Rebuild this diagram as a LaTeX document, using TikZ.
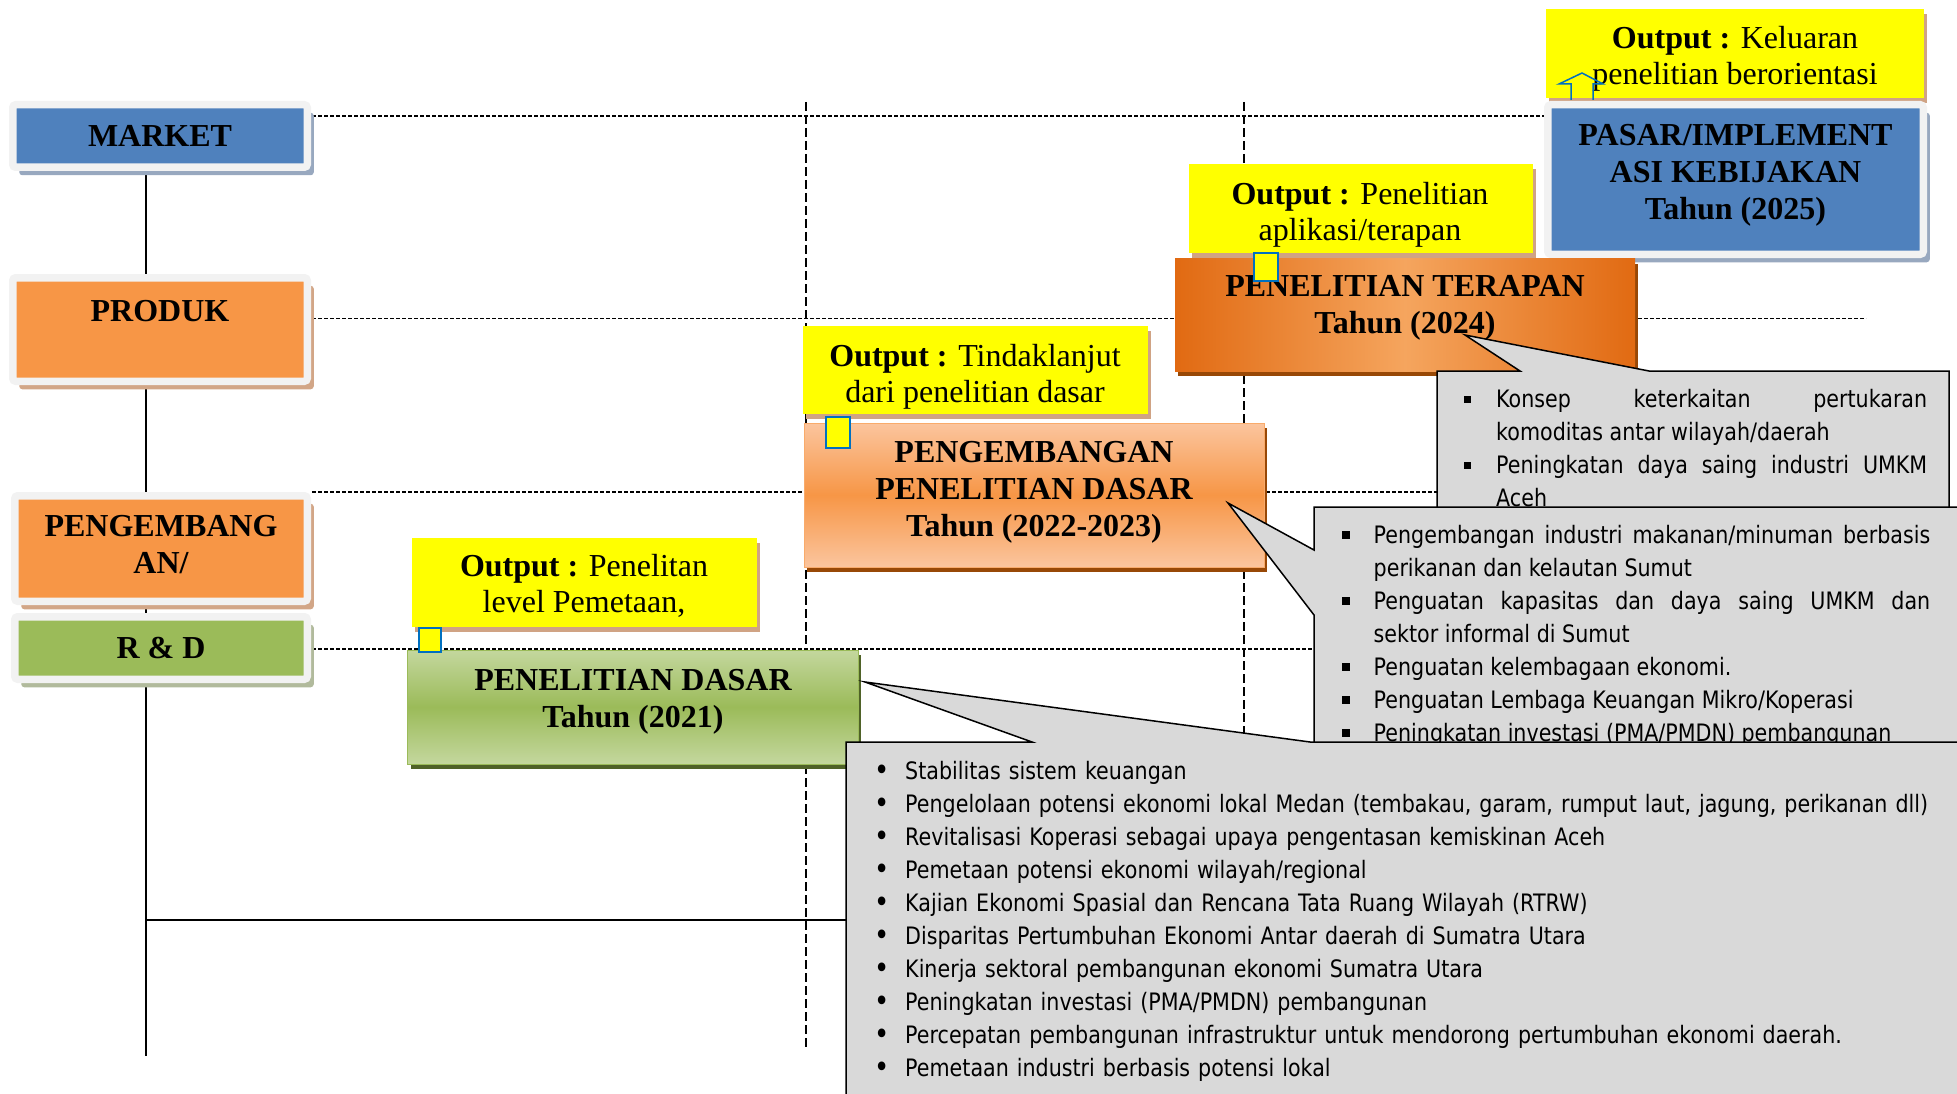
\documentclass[tikz,border=0pt]{standalone}
\usepackage{fontspec}
\setmainfont{Liberation Serif}
\newfontfamily\notefont[FakeStretch=0.86]{DejaVu Sans}
\usepackage{enumitem}
\usetikzlibrary{positioning,shadows}

\definecolor{mktblue}{HTML}{4F81BD}
\definecolor{mktshade}{HTML}{98A8BF}
\definecolor{prodorange}{HTML}{F79646}
\definecolor{prodlight}{HTML}{FBC59E}
\definecolor{prodshade}{HTML}{D2A687}
\definecolor{rdgreen}{HTML}{9BBB59}
\definecolor{rdlight}{HTML}{C4D79E}
\definecolor{rdshade}{HTML}{B1BA9C}
\definecolor{rddark}{HTML}{4F6228}
\definecolor{framegray}{HTML}{F2F2F2}
\definecolor{outyellow}{HTML}{FFFF00}
\definecolor{outshade}{HTML}{D0A384}
\definecolor{terdark}{HTML}{E16A12}
\definecolor{terlight}{HTML}{F5A55E}
\definecolor{shadebrown}{HTML}{984806}
\definecolor{arrowblue}{HTML}{0070C0}
\definecolor{marble}{HTML}{D9D9D9}

\begin{document}
\begin{tikzpicture}[x=1pt,y=-1pt,
	titletext/.style={font=\fontsize{32}{37}\selectfont\bfseries,align=center,inner sep=0pt},
	outputtext/.style={font=\fontsize{32}{36}\selectfont,align=center,inner sep=0pt},
	levelbox/.style={draw=framegray,line width=7.5pt,rounded corners=3pt,inner sep=0pt,
		drop shadow={shadow xshift=6.5pt,shadow yshift=-8pt,fill=#1,opacity=1}},
	outputbox/.style={fill=outyellow,inner sep=0pt,
		drop shadow={shadow xshift=3pt,shadow yshift=-5pt,fill=outshade,opacity=1}},
	stagebox/.style={inner sep=0pt,drop shadow={shadow xshift=3pt,shadow yshift=-5pt,fill=#1,opacity=1}},
	hguide/.style={dash pattern=on 4pt off 2pt,line width=1.3pt},
	vguide/.style={dash pattern=on 9pt off 4pt,line width=1.3pt},
	spine/.style={line width=1.5pt},
	arrowstub/.style={fill=outyellow,draw=arrowblue,line width=1.5pt,inner sep=0pt},
	callout/.style={draw,line width=1.5pt,fill=marble},
	callouttext/.style={font=\notefont\fontsize{24}{33}\selectfont,inner sep=0pt,anchor=base west}]

	\useasboundingbox (0,0) rectangle (1957,1094);
	\clip (0,0) rectangle (1957,1094);

	% guide lines
	\draw[hguide] (306,116) -- (1544,116);
	\draw[hguide] (312,318.5) -- (1866,318.5);
	\draw[hguide] (312,492) -- (1437,492);
	\draw[hguide] (312,649) -- (1314,649);
	\draw[vguide] (806,102) -- (806,1047);
	\draw[vguide] (1244,102) -- (1244,742);

	\coordinate (spinetop) at (146,171);
	\coordinate (spinebot) at (146,1056);
	\coordinate (elbow) at (146,920);
	\coordinate (elbowend) at (846,920);
	\draw[spine] (spinetop) -- (spinebot);
	\draw[spine] (elbow) -- (elbowend);

	% levels
	\node[levelbox=mktshade,fill=mktblue,minimum width=294.5pt,minimum height=62.5pt,titletext] (market) at (160,136) {MARKET};
	\node[levelbox=prodshade,fill=prodorange,minimum width=294.5pt,minimum height=103.5pt] (produk) at (160,329.5) {};
	\node[titletext] at (160,311) {PRODUK};
	\node[levelbox=prodshade,fill=prodorange,minimum width=292.5pt,minimum height=105.5pt] (pengembang) at (161,548.5) {};
	\node[titletext] at (161,545) {PENGEMBANG\\AN/};
	\node[levelbox=rdshade,fill=rdgreen,minimum width=292.5pt,minimum height=62.5pt,titletext] (rnd) at (161,648) {R \& D};

	% outputs
	\node[outputbox,minimum width=378pt,minimum height=89pt] (keluaran) at (1735,53.5) {};
	\node[outputtext] at (1735,59) {\textbf{Output :} Keluaran\\penelitian berorientasi};
	\node[outputbox,minimum width=344pt,minimum height=89pt] (aplikasi) at (1361,208.5) {};
	\node[outputtext] at (1360,215) {\textbf{Output :} Penelitian\\aplikasi/terapan};
	\node[outputbox,minimum width=345pt,minimum height=88pt] (tindak) at (975.5,370) {};
	\node[outputtext] at (975,377) {\textbf{Output :} Tindaklanjut\\dari penelitian dasar};
	\node[outputbox,minimum width=345pt,minimum height=89pt] (pemetaan) at (584.5,582.5) {};
	\node[outputtext] at (584,586) {\textbf{Output :} Penelitan\\level Pemetaan,};

	\draw[arrowblue,line width=1.5pt] (1571,100) -- (1571,84) -- (1559,84) -- (1582,73) -- (1603,84) -- (1593,84) -- (1593,100);

	% stages
	\node[levelbox=mktshade,fill=mktblue,minimum width=375.5pt,minimum height=149.5pt] (pasar) at (1735.5,179.5) {};
	\node[titletext] at (1735.5,175) {PASAR/IMPLEMENT\\ASI KEBIJAKAN\\Tahun (2025)};
	\node[stagebox=shadebrown,left color=terdark,right color=terdark,middle color=terlight,minimum width=460pt,minimum height=112.5pt] (terapan) at (1405,314.75) {};
	\node[titletext] at (1405,308) {PENELITIAN TERAPAN\\Tahun (2024)};
	\node[stagebox=shadebrown,top color=prodlight,bottom color=prodlight,middle color=prodorange,draw=prodorange!80,line width=1pt,minimum width=460pt,minimum height=144pt] (lanjut) at (1034,495) {};
	\node[titletext] at (1034,492.5) {PENGEMBANGAN\\PENELITIAN DASAR\\Tahun (2022-2023)};
	\node[stagebox=rddark,top color=rdlight,bottom color=rdlight,middle color=rdgreen,draw=rdgreen,line width=1pt,minimum width=450.5pt,minimum height=114pt] (dasar) at (632.75,707) {};
	\node[titletext] at (633,702) {PENELITIAN DASAR\\Tahun (2021)};

	\node[arrowstub,minimum width=24pt,minimum height=28pt] (stubterapan) at (1266,267) {};
	\node[arrowstub,minimum width=24pt,minimum height=31pt] (stublanjut) at (838,432.5) {};
	\node[arrowstub,minimum width=22pt,minimum height=24pt] (stubdasar) at (430,640) {};

	% callouts
	\draw[callout] (1437,371) -- (1520,371) -- (1465,335) -- (1649,371) -- (1949,371) -- (1949,1100) -- (1437,1100) -- cycle;
	\node[callouttext,text width=459pt,align=justify] (konsep) at (1468,374) {%
		\begin{itemize}[leftmargin=28pt,labelsep=25pt,itemsep=0pt,topsep=0pt,parsep=0pt,partopsep=0pt,label={\rule[4pt]{7pt}{7pt}}]
		\item Konsep keterkaitan pertukaran\linebreak komoditas antar wilayah/daerah
		\item Peningkatan daya saing industri UMKM\linebreak Aceh
		\end{itemize}};

	\draw[callout] (1314,507) -- (1960,507) -- (1960,1100) -- (1314,1100) -- (1314,615) -- (1228,503) -- (1314,550) -- cycle;
	\node[callouttext,text width=590pt,align=justify] (umkm) at (1340,510.4) {%
		\begin{itemize}[leftmargin=33.5pt,labelsep=24pt,itemsep=0pt,topsep=0pt,parsep=0pt,partopsep=0pt,label={\rule[4pt]{8pt}{8pt}}]
		\item Pengembangan industri makanan/minuman berbasis\linebreak perikanan dan kelautan Sumut
		\item Penguatan kapasitas dan daya saing UMKM dan\linebreak sektor informal di Sumut
		\item Penguatan kelembagaan ekonomi.
		\item Penguatan Lembaga Keuangan Mikro/Koperasi
		\item Peningkatan investasi (PMA/PMDN) pembangunan
		\end{itemize}};

	\draw[callout] (846,742) -- (1032,742) -- (865,682) -- (1310,742) -- (1960,742) -- (1960,1100) -- (846,1100) -- cycle;
	\node[callouttext,text width=1080pt,align=left] (stabil) at (875,746.5) {%
		\begin{itemize}[leftmargin=30pt,labelsep=15pt,itemsep=0pt,topsep=0pt,parsep=0pt,partopsep=0pt,label={\raisebox{-1pt}{\fontsize{30}{30}\selectfont\textbullet}}]
		\item Stabilitas sistem keuangan
		\item Pengelolaan potensi ekonomi lokal Medan (tembakau, garam, rumput laut, jagung, perikanan dll)
		\item Revitalisasi Koperasi sebagai upaya pengentasan kemiskinan Aceh
		\item Pemetaan potensi ekonomi wilayah/regional
		\item Kajian Ekonomi Spasial dan Rencana Tata Ruang Wilayah (RTRW)
		\item Disparitas Pertumbuhan Ekonomi Antar daerah di Sumatra Utara
		\item Kinerja sektoral pembangunan ekonomi Sumatra Utara
		\item Peningkatan investasi (PMA/PMDN) pembangunan
		\item Percepatan pembangunan infrastruktur untuk mendorong pertumbuhan ekonomi daerah.
		\item Pemetaan industri berbasis potensi lokal
		\end{itemize}};
\end{tikzpicture}
\end{document}
